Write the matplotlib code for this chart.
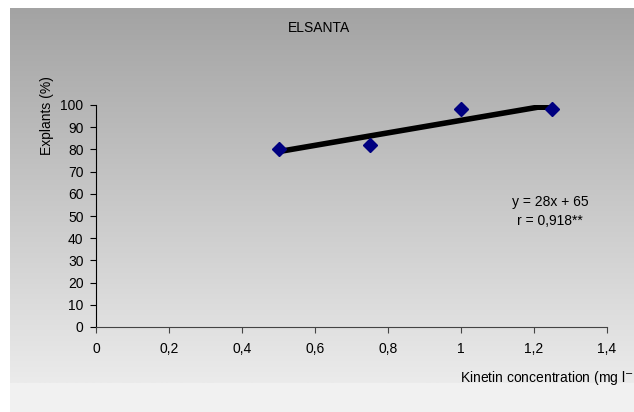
import numpy as np
import matplotlib
matplotlib.use("Agg")
import matplotlib.pyplot as plt
from matplotlib.patches import Rectangle

plt.rcParams["font.family"] = ["Liberation Sans", "DejaVu Sans"]

# data
kinetin = [0.5, 0.75, 1.0, 1.25]
explants = [80, 82, 98, 98]
trend_x = [0.5, 1.21, 1.25]
trend_y = [79, 99, 99]
x_ticks = [0, 0.2, 0.4, 0.6, 0.8, 1.0, 1.2, 1.4]
x_labels = ["0", "0,2", "0,4", "0,6", "0,8", "1", "1,2", "1,4"]
y_ticks = list(range(0, 101, 10))

W, H = 634, 412
fig = plt.figure(figsize=(W / 100, H / 100), dpi=100)
fig.patch.set_facecolor("white")

# background: gradient chart area + light strip below
bg = fig.add_axes([0, 0, 1, 1])
bg.set_xlim(0, W)
bg.set_ylim(H, 0)
bg.axis("off")
grad = np.linspace(0, 1, 256).reshape(-1, 1)
top, bot = 0xa3 / 255, 0xeb / 255
img = top + (bot - top) * grad
bg.imshow(np.dstack([img, img, img]), extent=[10, W, 383, 8], aspect="auto")
bg.add_patch(Rectangle((10, 383), W - 10, H - 383, color="#f1f1f1", lw=0))

x0, x1 = 96, 607
y0, y1 = 327, 105
ax = fig.add_axes([x0 / W, (H - y0) / H, (x1 - x0) / W, (y0 - y1) / H])
ax.set_facecolor("none")
ax.set_xlim(0, 1.4)
ax.set_ylim(0, 100)

ax.plot(trend_x, trend_y, color="black", linewidth=4, solid_capstyle="butt", zorder=2)
ax.plot(kinetin, explants, linestyle="none", marker="D", markersize=7.5,
        color="#000080", zorder=3, clip_on=False)

fs = 10
ax.set_xticks(x_ticks)
ax.set_xticklabels(x_labels)
ax.set_yticks(y_ticks)
for s in ["top", "right"]:
    ax.spines[s].set_visible(False)
ax.spines["left"].set_color("black")
ax.spines["bottom"].set_color("#444444")
ax.tick_params(axis="y", direction="out", length=4, pad=5, labelsize=fs, colors="black")
ax.tick_params(axis="x", direction="out", length=4, pad=7, labelsize=fs, colors="black")
ax.tick_params(axis="x", color="#444444")

fig.text(319 / W, 1 - 28 / H, "ELSANTA", ha="center", va="center", fontsize=fs)
fig.text(47 / W, 1 - 116 / H, "Explants (%)", ha="center", va="center",
         rotation=90, fontsize=fs)
fig.text(460 / W, 1 - 378 / H, "Kinetin concentration (mg l$^{-1}$)", ha="left",
         va="center", fontsize=fs)
fig.text(550 / W, 1 - 202 / H, "y = 28x + 65", ha="center", va="center", fontsize=fs)
fig.text(550 / W, 1 - 221 / H, "r = 0,918**", ha="center", va="center", fontsize=fs)

fig.savefig("out.png", dpi=100)
